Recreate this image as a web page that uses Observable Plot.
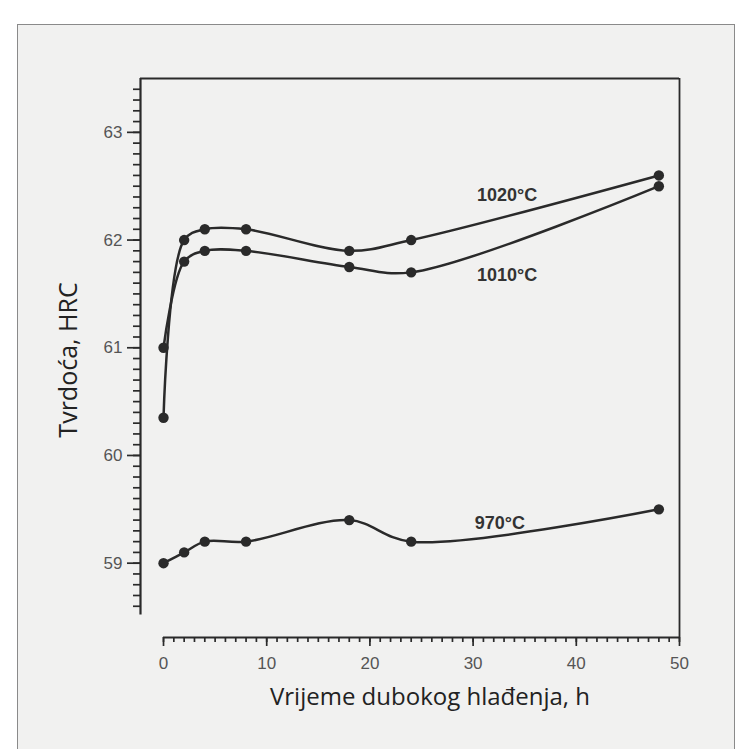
<!DOCTYPE html>
<html>
<head>
<meta charset="utf-8">
<script src="https://cdn.jsdelivr.net/npm/d3@7"></script>
<script src="https://cdn.jsdelivr.net/npm/@observablehq/plot@0.6"></script>
<style>
  html, body { margin: 0; padding: 0; background: #ffffff; }
  #wrap { position: relative; width: 742px; height: 749px; overflow: hidden; background: #ffffff; }
  #box { position: absolute; left: 17px; top: 24px; width: 716px; height: 730px;
         background: #f1f1f0; border: 1.5px solid #8a8a8a; }
  #chart { position: absolute; left: 0; top: 0; }
</style>
</head>
<body>
<div id="wrap"><div id="box"></div><div id="chart"></div></div>
<script>
// Data
const hours = [0, 2, 4, 8, 18, 24, 48];
const hrc1020 = [60.35, 62.0, 62.1, 62.1, 61.9, 62.0, 62.6];
const hrc1010 = [61.0, 61.8, 61.9, 61.9, 61.75, 61.7, 62.5];
const hrc970  = [59.0, 59.1, 59.2, 59.2, 59.4, 59.2, 59.5];
const seriesNames = ["1020°C", "1010°C", "970°C"];
const labelHours = [33.3, 33.3, 32.6];
const labelHrc = [62.42, 61.67, 59.37];
const xMajorTicks = [0, 10, 20, 30, 40, 50];
const yMajorTicks = [59, 60, 61, 62, 63];
const xTitle = "Vrijeme dubokog hlađenja, h";
const yTitle = "Tvrdoća, HRC";

const xMinorTicks = d3.range(0, 51, 1);
const yMinorTicks = d3.range(586, 635, 1).map(d => d / 10);

const seriesValues = [hrc1020, hrc1010, hrc970];
const rows = seriesNames.flatMap((s, i) => hours.map((h, j) => ({series: s, h, v: seriesValues[i][j]})));
const labels = seriesNames.map((s, i) => ({text: s, h: labelHours[i], v: labelHrc[i]}));

const W = 742, H = 749, mL = 140, mR = 63, mT = 78, mB = 112;
const xMin = -2.23, xMax = 50, yMin = 58.31, yMax = 63.5, yAxisBottom = 58.52;
const pxPerX = (W - mL - mR) / (xMax - xMin);
const pxPerY = (H - mT - mB) / (yMax - yMin);
const ink = "#2a2a2a";

const chart = Plot.plot({
  width: W,
  height: H,
  marginLeft: mL,
  marginRight: mR,
  marginTop: mT,
  marginBottom: mB,
  x: {domain: [xMin, xMax]},
  y: {domain: [yMin, yMax]},
  style: {background: "transparent", fontFamily: "Liberation Sans, Arial, sans-serif", fontSize: "17px", overflow: "visible"},
  marks: [
    // frame pieces
    Plot.ruleX([xMin], {y1: yAxisBottom, y2: yMax, stroke: ink, strokeWidth: 2.2}),
    Plot.ruleY([yMax], {x1: xMin, x2: xMax, stroke: ink, strokeWidth: 2}),
    Plot.ruleX([xMax], {y1: yMin, y2: yMax, stroke: ink, strokeWidth: 1.8}),
    Plot.ruleY([yMin], {x1: 0, x2: xMax, stroke: ink, strokeWidth: 2.2}),
    // minor ticks
    Plot.ruleY(yMinorTicks, {x1: xMin - 7 / pxPerX, x2: xMin, stroke: ink, strokeWidth: 1.7}),
    Plot.ruleX(xMinorTicks, {y1: yMin - 5 / pxPerY, y2: yMin, stroke: ink, strokeWidth: 1.7}),
    // major ticks with labels
    Plot.axisY(yMajorTicks, {anchor: "left", tickSize: 13, tickPadding: 5, label: null, stroke: ink, strokeWidth: 1.7,
      fontSize: 17, fill: "#555", tickFormat: d => String(d)}),
    Plot.axisX(xMajorTicks, {anchor: "bottom", tickSize: 9, tickPadding: 10, label: null, stroke: ink, strokeWidth: 1.7,
      fontSize: 17, fill: "#555", tickFormat: d => String(d)}),
    // curves and points
    Plot.line(rows, {x: "h", y: "v", z: "series", curve: "catmull-rom", stroke: ink, strokeWidth: 2.5}),
    Plot.dot(rows, {x: "h", y: "v", r: 5.2, fill: ink, stroke: "none"}),
    // series labels
    Plot.text(labels, {x: "h", y: "v", text: "text", fontSize: 18, fontWeight: "bold", fill: "#333",
      fontFamily: "Liberation Sans, Arial, sans-serif"}),
    // axis titles
    Plot.text([xTitle], {frameAnchor: "bottom", textAnchor: "middle", dx: 20, dy: 67, fontSize: 24, fill: "#222",
      fontFamily: "Open Sans, sans-serif"}),
    Plot.text([yTitle], {frameAnchor: "left", textAnchor: "middle", dx: -72, dy: 2, rotate: -90, fontSize: 25, fill: "#222",
      fontFamily: "Open Sans, sans-serif"})
  ]
});
document.getElementById("chart").append(chart);
</script>
</body>
</html>
